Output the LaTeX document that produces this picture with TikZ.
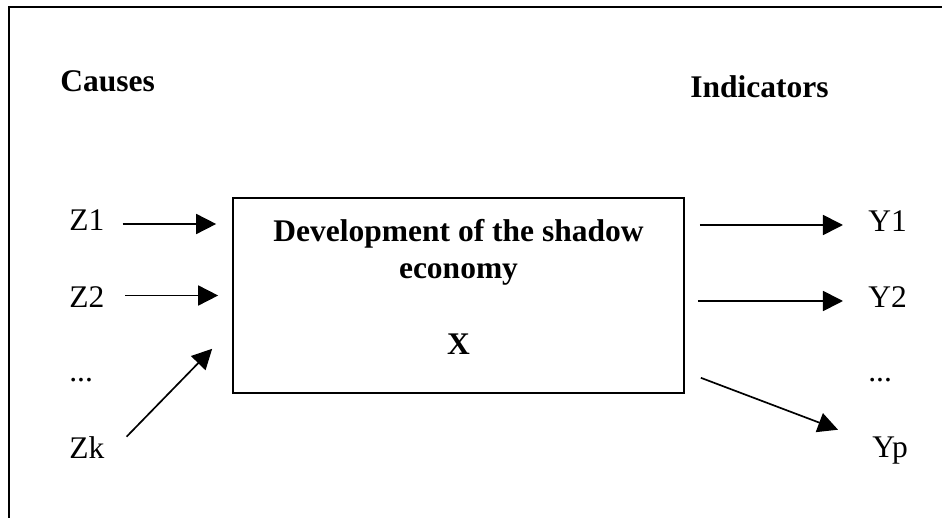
\documentclass[tikz,border=0pt]{standalone}
\usepackage{fontspec}
\setmainfont{Liberation Serif}
\usetikzlibrary{arrows.meta}
\begin{document}
\begin{tikzpicture}[x=0.025cm, y=-0.025cm]

      \tikzset{txt/.style={inner sep=0pt, anchor=base west, font=\fontsize{22.4}{27}\selectfont},
               var/.style={txt, text height=0.5cm, text depth=0.15cm},
               head/.style={txt, font=\fontsize{22.4}{27}\selectfont\bfseries},
               bigbox/.style={draw, line width=1.1pt, minimum width=11.275cm, minimum height=4.875cm, inner sep=0pt},
               pointer/.style={-{Triangle[length=0.5cm, width=0.5cm]}, line width=1.2pt}}
      \useasboundingbox (0,0) rectangle (942,518);
%% Frame
      	\draw[line width=1.5pt] (9,518) |- (942,7);
%% Headings
      	\node[head] (causes) at (60,92) {Causes};
      	\node[head] (indicators) at (690,98) {Indicators};
%% Box
      	\node[bigbox] (box) at (458.5,295.5) {};
      	\node[head, anchor=base] (title) at (458.5,242) {Development of the shadow};
      	\node[head, anchor=base] (title2) at (458.5,278) {economy};
      	\node[head, anchor=base] (x) at (458.5,354) {X};
%% Causes and indicators
      	\node[var] (z1) at (69,231) {Z1};
      	\node[var] (z2) at (69,307) {Z2};
      	\node[var] (zdots) at (69,382) {...};
      	\node[var] (zk) at (69,458) {Zk};
      	\node[var] (y1) at (868,232) {Y1};
      	\node[var] (y2) at (868,308) {Y2};
      	\node[var] (ydots) at (868,382) {...};
      	\node[var] (yp) at (872,457) {Yp};
%Arrows
		\path [pointer, shorten <=0.45cm, shorten >=0.4cm] (z1.east) edge (z1.east -| box.west);
		\path [pointer, shorten <=0.52cm, shorten >=0.35cm] (box.west -| z2.east) edge (box.west);
		\path [pointer] ([shift={(22,-1)}]zk.north east) edge ([shift={(-20,-45)}]box.south west);
		\path [pointer, shorten <=0.375cm, shorten >=0.625cm] (y1.west -| box.east) edge (y1.west);
		\path [pointer, shorten <=0.325cm, shorten >=0.625cm] (y2.west -| box.east) edge (y2.west);
		\path [pointer] ([shift={(16,-16)}]box.south east) edge ([shift={(-34,-7)}]yp.north west);

	\end{tikzpicture}
\end{document}
